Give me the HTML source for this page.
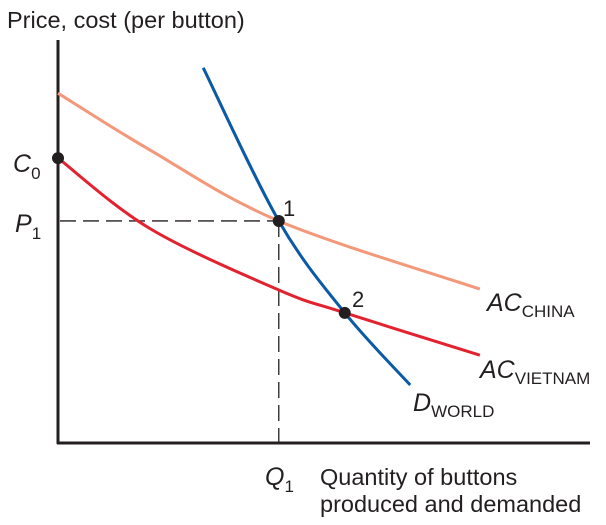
<!DOCTYPE html>
<html><head><meta charset="utf-8"><style>
body{margin:0;background:#fff}
svg{display:block;font-family:"Liberation Sans",Arial,sans-serif}
</style></head><body>
<svg id="chart" width="606" height="525" viewBox="0 0 606 525">
<text x="7" y="28" font-size="23.5" fill="#231f20">Price, cost (per button)</text>
<line x1="58" y1="40" x2="58" y2="444" stroke="#231f20" stroke-width="3"/>
<line x1="57" y1="443" x2="590" y2="443" stroke="#231f20" stroke-width="3"/>
<g id="marks"></g>
<text x="13" y="172" font-size="25" font-style="italic" fill="#231f20">C<tspan font-size="17" font-style="normal" dy="7">0</tspan></text>
<text x="15" y="232" font-size="25" font-style="italic" fill="#231f20">P<tspan font-size="17" font-style="normal" dy="7">1</tspan></text>
<text x="265" y="485" font-size="25" font-style="italic" fill="#231f20">Q<tspan font-size="17" font-style="normal" dy="7">1</tspan></text>
<text x="320" y="485" font-size="23.5" fill="#231f20">Quantity of buttons</text>
<text x="320" y="512" font-size="23.5" fill="#231f20">produced and demanded</text>
<text x="487" y="311" font-size="25" font-style="italic" fill="#231f20">AC<tspan font-size="17" font-style="normal" dy="6">CHINA</tspan></text>
<text x="480" y="378" font-size="25" font-style="italic" fill="#231f20">AC<tspan font-size="17" font-style="normal" dy="6">VIETNAM</tspan></text>
<text x="413" y="411" font-size="25" font-style="italic" fill="#231f20">D<tspan font-size="17" font-style="normal" dy="6">WORLD</tspan></text>
<text x="283" y="216" font-size="22" fill="#231f20">1</text>
<text x="352" y="307" font-size="22" fill="#231f20">2</text>
</svg>
<script>
const chinaX=[0,17.3,41.5,79.3];
const chinaY=[86.8,72.7,55.1,38.2];
const vietX=[0,17.3,41.5,53.9,79.3];
const vietY=[70.7,53.2,37.97,32.3,21.8];
const demX=[27.3,41.5,53.9,66.2];
const demY=[93.1,55.1,32.3,14.4];
const pointX=[0,41.5,53.9];
const pointY=[70.7,55.1,32.3];
const sx=v=>58+v*5.32, sy=v=>443-v*4.03;
const NS='http://www.w3.org/2000/svg';
const g=document.getElementById('marks');
function smooth(xs,ys){
  const p=xs.map((x,i)=>[sx(x),sy(ys[i])]);
  let d='M'+p[0][0]+','+p[0][1];
  for(let i=0;i<p.length-1;i++){
    const p0=p[i-1]||p[i],p1=p[i],p2=p[i+1],p3=p[i+2]||p2;
    const c1=[p1[0]+(p2[0]-p0[0])/6,p1[1]+(p2[1]-p0[1])/6];
    const c2=[p2[0]-(p3[0]-p1[0])/6,p2[1]-(p3[1]-p1[1])/6];
    d+=`C${c1[0]},${c1[1]} ${c2[0]},${c2[1]} ${p2[0]},${p2[1]}`;
  }
  return d;
}
function line(x1,y1,x2,y2,name){
  const l=document.createElementNS(NS,'line');
  l.setAttribute('x1',x1);l.setAttribute('y1',y1);l.setAttribute('x2',x2);l.setAttribute('y2',y2);
  l.setAttribute('stroke','#231f20');l.setAttribute('stroke-width','1.3');l.setAttribute('stroke-dasharray','16,7');
  
  
  g.appendChild(l);
}
line(sx(0)+2,sy(pointY[1]),sx(pointX[1]),sy(pointY[1]),'p1-guide');
line(sx(pointX[1]),sy(pointY[1]),sx(pointX[1]),451,'q1-guide');
function curve(xs,ys,color,w,name){
  const p=document.createElementNS(NS,'path');
  p.setAttribute('d',smooth(xs,ys));p.setAttribute('fill','none');
  p.setAttribute('stroke',color);p.setAttribute('stroke-width',w);
  
  
  g.appendChild(p);
}
curve(chinaX,chinaY,'#f4987a',3,'ac-china-curve');
curve(vietX,vietY,'#e3222f',3,'ac-vietnam-curve');
curve(demX,demY,'#0b5aa6',3,'d-world-curve');
const pn=['point-c0','point-1','point-2'];
pointX.forEach((x,i)=>{
  const c=document.createElementNS(NS,'circle');
  c.setAttribute('cx',sx(x));c.setAttribute('cy',sy(pointY[i]));c.setAttribute('r',6);c.setAttribute('fill','#231f20');
  
  
  g.appendChild(c);
});
</script>
</body></html>
